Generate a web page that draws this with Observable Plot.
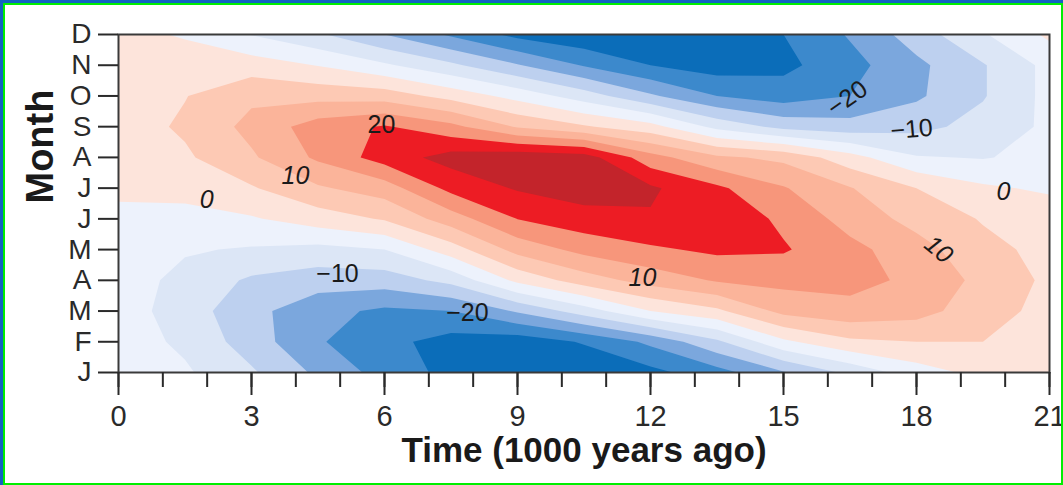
<!DOCTYPE html>
<html>
<head>
<meta charset="utf-8">
<script src="https://cdn.jsdelivr.net/npm/d3@7"></script>
<script src="https://cdn.jsdelivr.net/npm/@observablehq/plot@0.6"></script>
<style>
html, body { margin: 0; padding: 0; background: #fff; }
#wrap { position: relative; width: 1063px; height: 485px; overflow: hidden; background: #fff; }
#chart { position: absolute; left: 0; top: 0; }
#b1 { position: absolute; left: 0; top: 0; width: 1063px; height: 485px; box-sizing: border-box;
      border-top: 3px solid #1262c2; border-left: 3px solid #1262c2; pointer-events: none; }
#b2 { position: absolute; left: 3px; top: 3px; width: 1060px; height: 482px; box-sizing: border-box;
      border: 2px solid #00ee00; pointer-events: none; }
</style>
</head>
<body>
<div id="wrap"><div id="chart"></div><div id="b1"></div><div id="b2"></div></div>
<script>
// Time axis of the grid (1000 years ago)
const times = [0, 1.5, 3, 4.5, 6, 7.5, 9, 10.5, 12, 13.5, 15, 16.5, 18, 19.5, 21];
// Month tick labels, January (bottom) to December (top)
const monthLabels = ["J", "F", "M", "A", "M", "J", "J", "A", "S", "O", "N", "D"];
// X tick values
const majorTicks = [0, 3, 6, 9, 12, 15, 18, 21];
const minorTicks = d3.range(0, 22, 1);

// Insolation anomaly (W/m²), one array per month
const jan = [-2, -4.3, -9.3, -16, -22, -26.5, -29, -29.5, -26.5, -22, -15.5, -8.8, -2.3, 1.5, 3];
const feb = [-2.5, -6, -12.5, -19.5, -23.5, -27, -28, -24.5, -18.9, -11, -1, 4, 5, 5, 4];
const mar = [-2.5, -7.5, -13.5, -18.3, -21, -20, -14.4, -7.5, 0, 4, 11.5, 13.5, 12, 7, 3.5];
const apr = [-2.5, -6.5, -10.8, -12.7, -12.5, -8.5, 1.3, 7.5, 12.1, 15.5, 16.5, 16.5, 14, 8.5, 4];
const may = [-2, -4.5, -5.5, -6.5, -5, 2.6, 11.8, 16.6, 19.2, 21, 20.5, 16.5, 12, 6.5, 3.5];
const jun = [-1, -2, -0.5, 2.5, 5.5, 12.6, 20.1, 23, 24.5, 23.5, 19, 13, 8.3, 4.6, 3];
const jul = [0.8, 2, 4.5, 9.3, 12.5, 21.5, 25.5, 27.5, 25.8, 21, 15.4, 10.3, 5, 0.8, -0.8];
const aug = [2, 4.2, 9.3, 15.9, 22.3, 27, 28.5, 27.5, 17, 11, 8.8, 2, -4.6, -5.3, -3.5];
const sep = [2.5, 5.8, 11.5, 17.4, 20.5, 16.5, 9.5, 5.6, 1.9, -6.5, -11.5, -13, -11.5, -8.2, -4];
const oct = [2.5, 4.8, 9, 8.3, 7.7, 3.2, -1.8, -7.5, -14.2, -20, -22.5, -20, -15.8, -10.4, -3.5];
const nov = [2, 2.5, 2.5, -0.2, -4.2, -9, -14.6, -20.4, -25, -27.5, -26.3, -21.7, -16.2, -10.4, -3.5];
const dec = [1.5, -0.5, -5.2, -9.3, -15, -20.8, -26.5, -29, -30, -28.5, -25, -19.5, -12.5, -5.5, 1];

// Contour levels and band colours
const levels = [-40, -25, -20, -15, -10, -5, 0, 5, 10, 15, 20, 25];
const bandColors = ["#0b6db9", "#3c89cc", "#7ba7dd", "#bdd0ef", "#dce6f6", "#edf2fc",
                    "#fde4db", "#fdc9b4", "#fbb49a", "#f7967b", "#ed1c24", "#c3242b"];

// Contour labels (time, month index, text)
const labelT = [5.93, 3.99, 1.99, 4.94, 7.87, 11.82, 18.5, 19.96, 17.89, 16.44];
const labelM = [8.07, 6.41, 5.6, 3.19, 1.95, 3.09, 4.0, 5.86, 7.91, 8.92];
const labelText = ["20", "10", "0", "−10", "−20", "10", "10", "0", "−10", "−20"];
const labelAngle = [0, 0, 0, 0, 0, 0, 40, 0, -5, -35];
const labelItalic = [false, true, true, false, false, true, true, true, false, false];

const rows = [jan, feb, mar, apr, may, jun, jul, aug, sep, oct, nov, dec];
const grid = rows.flat();
const step = times[1] - times[0];
const labels = labelText.map((s, i) => ({t: labelT[i], m: labelM[i], s, a: labelAngle[i], it: labelItalic[i]}));

const font = "'Liberation Sans', Arial, Helvetica, sans-serif";

const chart = Plot.plot({
  width: 1063,
  height: 485,
  marginLeft: 118,
  marginRight: 14,
  marginTop: 34,
  marginBottom: 113,
  style: {fontFamily: font, background: "transparent"},
  x: {domain: [0, 21]},
  y: {domain: [0, 11]},
  color: {type: "threshold", domain: levels.slice(1), range: bandColors},
  marks: [
    Plot.contour(grid, {
      width: times.length, height: rows.length,
      x1: times[0] - step / 2, x2: times[times.length - 1] + step / 2,
      y1: -0.5, y2: rows.length - 0.5,
      value: Plot.identity, fill: "value", thresholds: levels, clip: true
    }),
    Plot.text(labels.filter(d => d.it), {x: "t", y: "m", text: "s", rotate: "a", fontSize: 25, fontStyle: "italic", fill: "#1a1a1a"}),
    Plot.text(labels.filter(d => !d.it), {x: "t", y: "m", text: "s", rotate: "a", fontSize: 25, fill: "#1a1a1a"}),
    Plot.frame({stroke: "#3a3a3a", strokeWidth: 2}),
    Plot.axisY({ticks: d3.range(12), tickFormat: i => monthLabels[i], tickSize: 20, tickPadding: 7,
                fontSize: 28, strokeWidth: 2, color: "#2a2a2a", label: null}),
    Plot.axisX({ticks: minorTicks, tickSize: 15, tickFormat: () => "", strokeWidth: 2, color: "#2a2a2a", label: null}),
    Plot.axisX({ticks: majorTicks, tickSize: 23, tickPadding: 10, fontSize: 29, strokeWidth: 2, color: "#2a2a2a", label: null}),
    Plot.text(["Month"], {frameAnchor: "left", dx: -78, rotate: -90, fontSize: 38, fontWeight: "bold", fill: "#1a1a1a"}),
    Plot.text(["Time (1000 years ago)"], {frameAnchor: "bottom", dy: 89, fontSize: 35, fontWeight: "bold", fill: "#1a1a1a"})
  ]
});
document.getElementById("chart").appendChild(chart);
</script>
</body>
</html>
